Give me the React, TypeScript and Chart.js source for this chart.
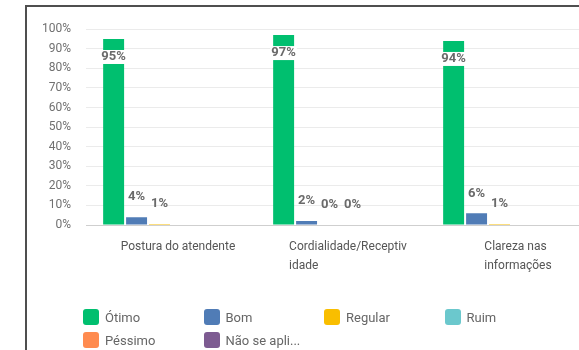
import { useEffect, useRef } from "react";
import { Chart, registerables } from "chart.js";

Chart.register(...registerables);

// ---- data ----
const categoryLines: string[][] = [
  ["Postura do atendente"],
  ["Cordialidade/Receptiv", "idade"],
  ["Clareza nas", "informações"],
];
const seriesNames = ["Ótimo", "Bom", "Regular", "Ruim", "Péssimo", "Não se apli..."];
const otimo = [95, 97, 94];
const bom = [4, 2, 6];
const regular = [0.5, 0, 0.5];
const ruim = [0, 0, 0];
const pessimo = [0, 0, 0];
const naoSeAplica = [0, 0, 0];
// which value labels are printed in the source chart
const showOtimo = [true, true, true];
const showBom = [true, true, true];
const showRegular = [true, true, true];
const showRuim = [false, true, false];
const showPessimo = [false, false, false];
const showNaoSeAplica = [false, false, false];
const yTickStep = 10;

const seriesValues = [otimo, bom, regular, ruim, pessimo, naoSeAplica];
const seriesShow = [showOtimo, showBom, showRegular, showRuim, showPessimo, showNaoSeAplica];
const seriesColors = ["#00BF6F", "#507CB6", "#F9BE00", "#6BC8CD", "#FF8B4F", "#7D5B91"];

const FONT = "Roboto, 'Open Sans', sans-serif";

const valueLabelPlugin = {
  id: "valueLabels",
  afterDatasetsDraw(chart: any) {
    const ctx = chart.ctx;
    ctx.save();
    ctx.font = `bold 13px ${FONT}`;
    ctx.textAlign = "center";
    ctx.textBaseline = "middle";
    chart.data.datasets.forEach((ds: any, d: number) => {
      const meta = chart.getDatasetMeta(d);
      meta.data.forEach((el: any, i: number) => {
        if (!seriesShow[d][i]) return;
        const v = ds.data[i];
        const txt = `${Math.round(v)}%`;
        const tw = ctx.measureText(txt).width;
        let y: number;
        if (v >= 50) {
          y = el.y + 18;
          ctx.fillStyle = "#ffffff";
          ctx.fillRect(el.x - tw / 2 - 1, y - 7, tw + 2, 14);
        } else {
          y = el.y - 20;
        }
        ctx.fillStyle = "#6a6a6a";
        ctx.fillText(txt, el.x, y);
      });
    });
    ctx.restore();
  },
};

const xLabelPlugin = {
  id: "xLabels",
  afterDraw(chart: any) {
    const ctx = chart.ctx;
    const xs = chart.scales.x;
    const area = chart.chartArea;
    ctx.save();
    ctx.font = `12px ${FONT}`;
    ctx.fillStyle = "#555555";
    ctx.textAlign = "left";
    ctx.textBaseline = "middle";
    categoryLines.forEach((lines, i) => {
      const cx = xs.getPixelForValue(i) + 7;
      const w = Math.max(...lines.map((l) => ctx.measureText(l).width));
      lines.forEach((l, j) => {
        ctx.fillText(l, cx - w / 2, area.bottom + 22 + j * 19);
      });
    });
    ctx.restore();
  },
};

export default function App() {
  const ref = useRef<HTMLCanvasElement>(null);
  useEffect(() => {
    const chart = new Chart(ref.current!, {
      type: "bar",
      data: {
        labels: categoryLines.map((c) => c.join("")),
        datasets: seriesNames.map((name, d) => ({
          label: name,
          data: seriesValues[d],
          backgroundColor: seriesColors[d],
          borderWidth: 0,
          barPercentage: 0.913,
          categoryPercentage: 0.81,
        })),
      },
      options: {
        responsive: false,
        animation: false,
        devicePixelRatio: 1,
        layout: { padding: { top: 21, bottom: 125, left: 0, right: 0 } },
        plugins: { legend: { display: false }, tooltip: { enabled: false } },
        scales: {
          x: { display: false, grid: { display: false } },
          y: {
            min: 0,
            max: 100,
            ticks: {
              stepSize: yTickStep,
              callback: (v: any) => `${v}%`,
              color: "#707070",
              font: { family: FONT, size: 12 },
              padding: 15,
            },
            grid: {
              drawTicks: false,
              color: (c: any) => (c.index === 0 ? "#cfcfcf" : "#ebebeb"),
            },
            border: { display: false },
            afterFit: (s: any) => {
              s.width = 60;
            },
          },
        },
      },
      plugins: [valueLabelPlugin, xLabelPlugin],
    } as any);
    return () => chart.destroy();
  }, []);

  return (
    <div
      style={{
        position: "fixed",
        left: 0,
        top: 0,
        width: 579,
        height: 350,
        overflow: "hidden",
        background: "#ffffff",
      }}
    >
      <div
        style={{
          position: "absolute",
          left: 25,
          top: 5,
          width: 700,
          height: 500,
          borderLeft: "2px solid #4f4f4f",
          borderTop: "2px solid #4f4f4f",
        }}
      />
      <canvas
        ref={ref}
        width={570}
        height={343}
        style={{ position: "absolute", left: 26, top: 7, width: 570, height: 343 }}
      />
      {seriesNames.map((name, d) => {
        const col = d % 4;
        const row = Math.floor(d / 4);
        return (
          <div
            key={name}
            style={{
              position: "absolute",
              left: 83 + col * 120.5,
              top: 309 + row * 23,
              height: 16,
              display: "flex",
              alignItems: "center",
              fontFamily: FONT,
              fontSize: 13,
              color: "#666666",
              whiteSpace: "nowrap",
            }}
          >
            <span
              style={{
                display: "inline-block",
                width: 16,
                height: 16,
                borderRadius: 3,
                background: seriesColors[d],
                marginRight: 6,
              }}
            />
            {name}
          </div>
        );
      })}
    </div>
  );
}
